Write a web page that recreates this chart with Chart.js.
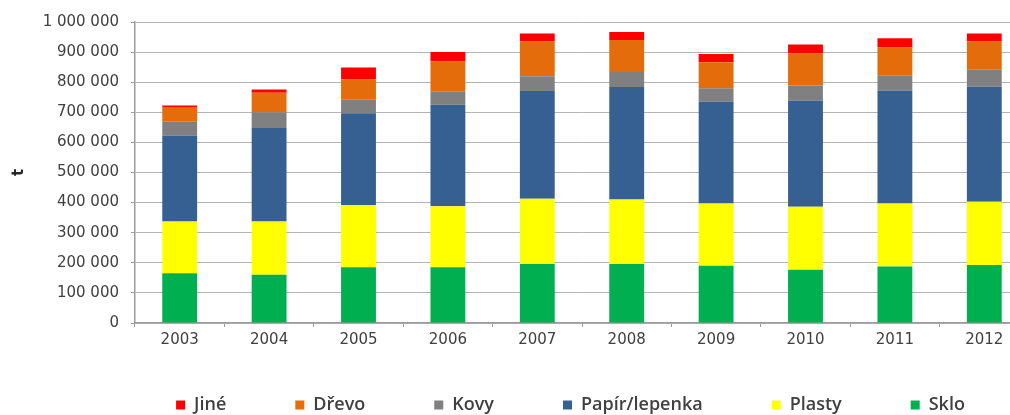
<!DOCTYPE html>
<html>
<head>
<meta charset="utf-8">
<script src="https://cdn.jsdelivr.net/npm/chart.js@4"></script>
<style>
    html, body { margin: 0; padding: 0; background: #fff; overflow: hidden; }
    #wrap { width: 1040px; height: 450px; }
</style>
</head>
<body>
<div id="wrap"><canvas id="chart"></canvas></div>
<script>
// Data (tonnes)
const years = ['2003', '2004', '2005', '2006', '2007', '2008', '2009', '2010', '2011', '2012'];
const sklo = [165000, 160000, 185000, 185000, 196000, 196000, 190000, 177000, 188000, 193000];
const plasty = [172000, 177000, 207000, 203000, 217000, 214000, 207000, 209000, 209000, 210000];
const papir = [286000, 311000, 305000, 337000, 358000, 374000, 338000, 352000, 375000, 382000];
const kovy = [46000, 52000, 46000, 45000, 49000, 50000, 45000, 51000, 51000, 56000];
const drevo = [49000, 65000, 66000, 99000, 115000, 106000, 86000, 106000, 92000, 94000];
const jine = [5000, 11000, 40000, 31000, 27000, 27000, 28000, 30000, 31000, 27000];

// Format numbers with space as thousands separator
function formatTicks(value) {
    return value.toString().replace(/\B(?=(\d{3})+(?!\d))/g, ' ');
}

// Move the legend, since the original chart is cropped on the right
const legendShift = {
    id: 'legendShift',
    afterLayout(chart, args, opts) {
        const lg = chart.legend;
        lg.left += opts.x;
        lg.right += opts.x;
        lg.top += opts.y;
        lg.bottom += opts.y;
    }
};

const gridColor = '#b4b4b4';
const axisColor = '#9c9c9c';
const textColor = '#404040';

function series(label, data, color) {
    return {
        label: label,
        data: data,
        backgroundColor: color,
        borderWidth: 0,
        barPercentage: 0.39,
        categoryPercentage: 1
    };
}

new Chart(document.getElementById('chart'), {
    type: 'bar',
    data: {
        labels: years,
        datasets: [
            series('Sklo', sklo, '#00b050'),
            series('Plasty', plasty, '#ffff00'),
            series('Papír/lepenka', papir, '#376092'),
            series('Kovy', kovy, '#808080'),
            series('Dřevo', drevo, '#e46c0a'),
            series('Jiné', jine, '#ff0000')
        ]
    },
    options: {
        responsive: true,
        maintainAspectRatio: false,
        animation: false,
        layout: {
            padding: { top: 22, right: 11, left: 0, bottom: 0 }
        },
        plugins: {
            tooltip: { enabled: false },
            legend: {
                position: 'bottom',
                reverse: true,
                labels: {
                    boxWidth: 9,
                    boxHeight: 9,
                    padding: 69,
                    color: textColor,
                    font: { family: 'Open Sans', size: 18, weight: '600' }
                }
            },
            legendShift: { x: 56, y: -26 }
        },
        scales: {
            x: {
                stacked: true,
                grid: {
                    display: true,
                    drawOnChartArea: false,
                    drawTicks: true,
                    tickLength: 4,
                    color: axisColor
                },
                border: { color: axisColor, width: 1.5 },
                ticks: {
                    padding: 4,
                    color: textColor,
                    font: { family: 'DejaVu Sans', size: 15 }
                }
            },
            y: {
                stacked: true,
                min: 0,
                max: 1000000,
                afterFit: scale => { scale.width = 135; },
                grid: {
                    color: gridColor,
                    tickLength: 4,
                    tickColor: axisColor
                },
                border: { color: axisColor, width: 1.5 },
                ticks: {
                    stepSize: 100000,
                    padding: 12,
                    color: textColor,
                    font: { family: 'DejaVu Sans', size: 15 },
                    callback: formatTicks
                },
                title: {
                    display: true,
                    text: 't',
                    color: '#262626',
                    padding: { top: 10, bottom: 4 },
                    font: { family: 'DejaVu Sans', size: 15, weight: 'bold' }
                }
            }
        }
    },
    plugins: [legendShift]
});
</script>
</body>
</html>
